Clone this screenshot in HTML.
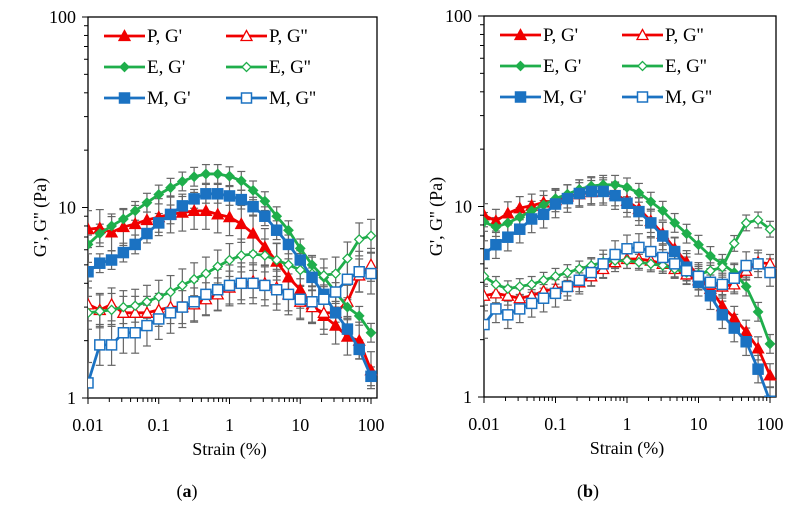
<!DOCTYPE html>
<html><head><meta charset="utf-8"><style>
html,body{margin:0;padding:0;background:#fff;}
svg{display:block;font-family:"Liberation Serif",serif;}
</style></head><body>
<svg id="chart" width="794" height="508" viewBox="0 0 794 508" xmlns="http://www.w3.org/2000/svg"></svg>
<script>
const strainTicks = [0.01, 0.1, 1, 10, 100];
const strainTickLabels = ["0.01", "0.1", "1", "10", "100"];
const modTicks = [1, 10, 100];
const modTickLabels = ["1", "10", "100"];
const strainPoints = Array.from({length:25},(_,i)=>+(0.01*Math.pow(10,i/6)).toPrecision(4));

const aPGp = [7.7,7.8,7.4,7.9,8.2,8.6,8.9,9.2,9.4,9.6,9.6,9.2,8.9,8.2,7.3,6.2,5.2,4.3,3.7,3.1,2.7,2.4,2.1,2.0,1.4];
const aPGpp = [3.1,2.9,3.1,2.8,2.8,2.8,2.9,3.0,3.0,3.1,3.3,3.5,3.8,4.0,4.1,4.0,3.8,3.5,3.2,3.0,2.8,2.8,3.2,4.4,5.0];
const aEGp = [6.4,7.3,8.0,8.7,9.6,10.6,11.7,12.7,13.7,14.5,15,15,14.6,13.8,12.3,10.8,9.0,7.6,6.1,5.0,4.3,3.6,3.0,2.7,2.2];
const aEGpp = [2.8,2.85,2.9,3.0,3.05,3.2,3.4,3.6,3.9,4.2,4.5,4.9,5.3,5.6,5.7,5.6,5.3,5.0,4.7,4.5,4.4,4.5,5.4,6.8,7.1];
const aMGp = [4.6,5.1,5.3,5.8,6.4,7.3,8.3,9.2,10.2,11.1,11.8,11.8,11.5,11.0,10.1,9.0,7.6,6.4,5.3,4.3,3.5,2.8,2.3,1.8,1.3];
const aMGpp = [1.2,1.9,1.9,2.2,2.2,2.4,2.6,2.8,3.0,3.2,3.5,3.7,3.9,4.0,4.0,3.9,3.7,3.5,3.3,3.2,3.3,3.6,4.2,4.6,4.5];

const bPGp = [9.0,8.4,9.2,9.8,10.1,10.5,10.8,11.3,11.6,11.9,12.0,11.6,10.7,9.7,8.4,7.2,6.0,5.1,4.3,3.7,3.0,2.6,2.2,1.8,1.3];
const bPGpp = [3.4,3.5,3.4,3.3,3.4,3.6,3.7,3.8,4.0,4.3,4.7,5.1,5.3,5.3,5.2,5.0,4.7,4.4,4.1,3.9,3.8,3.9,4.6,5.1,5.0];
const bEGp = [8.3,7.8,8.2,8.8,9.5,10.2,11.0,11.6,12.3,12.8,13.0,13.0,12.6,11.8,10.6,9.5,8.2,7.2,6.3,5.5,5.0,4.5,3.8,2.8,1.9];
const bEGpp = [4.3,3.9,3.7,3.8,3.9,4.1,4.3,4.5,4.7,4.9,5.1,5.2,5.2,5.1,5.0,4.9,4.7,4.5,4.4,4.6,4.8,6.4,8.2,8.5,7.6];
const bMGp = [5.6,6.3,6.9,7.6,8.6,9.1,10.3,11.0,11.7,12.0,12.0,11.4,10.4,9.4,8.2,7.0,5.8,4.8,4.0,3.4,2.7,2.3,1.95,1.4,0.95];
const bMGpp = [2.4,2.9,2.7,2.9,3.1,3.3,3.5,3.8,4.1,4.5,5.0,5.6,6.0,6.1,5.8,5.4,5.0,4.6,4.3,4.0,3.9,4.2,4.9,5.0,4.5];

const errA = [0.25,0.22,0.12,0.22,0.12,0.28];
const errB = [0.15,0.12,0.12,0.10,0.18,0.18];

const NS="http://www.w3.org/2000/svg";
const svg=document.getElementById('chart');
function mk(tag,attrs,parent){const e=document.createElementNS(NS,tag);for(const k in attrs)e.setAttribute(k,attrs[k]);(parent||svg).appendChild(e);return e;}

const RED="#f00000", GREEN="#1fae4b", BLUE="#1b72c2";
const seriesDefs=[
 {key:"P",name:"P, G'",color:RED,shape:"tri",fill:true},
 {key:"P",name:"P, G''",color:RED,shape:"tri",fill:false},
 {key:"E",name:"E, G'",color:GREEN,shape:"dia",fill:true},
 {key:"E",name:"E, G''",color:GREEN,shape:"dia",fill:false},
 {key:"M",name:"M, G'",color:BLUE,shape:"sq",fill:true},
 {key:"M",name:"M, G''",color:BLUE,shape:"sq",fill:false}];

function marker(g,shape,x,y,color,fill){
  const f=fill?color:"#fff";
  if(shape==="tri") return mk('polygon',{points:`${x},${y-5.5} ${x-5.5},${y+4.5} ${x+5.5},${y+4.5}`,fill:f,stroke:color,'stroke-width':1.3},g);
  if(shape==="dia") return mk('polygon',{points:`${x},${y-4.5} ${x-4.5},${y} ${x},${y+4.5} ${x+4.5},${y}`,fill:f,stroke:color,'stroke-width':1.3},g);
  return mk('rect',{x:x-5,y:y-5,width:10,height:10,fill:f,stroke:color,'stroke-width':1.5},g);
}

function panel(id,x0,x1,y0,y1,data,errs,label,labelX){
  const g=mk('g',{});
  
  
  const xs=v=>x0+(Math.log10(v)+2)/4*(x1-x0);
  const ys=v=>y1-Math.log10(v)/2*(y1-y0);
  const clipId=id+'-clip';
  const cp=mk('clipPath',{id:clipId},g);mk('rect',{x:x0,y:y0,width:x1-x0+8,height:y1-y0},cp);
  const fr=mk('rect',{x:x0,y:y0,width:x1-x0+6,height:y1-y0,fill:'none',stroke:'#000','stroke-width':1.3},g);
  
  for(let d=-2;d<2;d++)for(let m=1;m<10;m++){const v=Math.pow(10,d)*m;const X=xs(v);mk('line',{x1:X,y1:y1,x2:X,y2:y1+(m===1?6:4),stroke:'#000','stroke-width':1},g);}
  mk('line',{x1:xs(100),y1:y1,x2:xs(100),y2:y1+6,stroke:'#000','stroke-width':1},g);
  strainTicks.forEach((v,i)=>{const t=mk('text',{x:xs(v),y:y1+33,'text-anchor':'middle','font-size':18},g);t.textContent=strainTickLabels[i];
    });
  for(let d=0;d<2;d++)for(let m=1;m<10;m++){const Y=ys(Math.pow(10,d)*m);mk('line',{x1:x0-(m===1?6:4),y1:Y,x2:x0,y2:Y,stroke:'#000','stroke-width':1},g);}
  mk('line',{x1:x0-6,y1:ys(100),x2:x0,y2:ys(100),stroke:'#000','stroke-width':1},g);
  modTicks.forEach((v,i)=>{const t=mk('text',{x:x0-12,y:ys(v)+6,'text-anchor':'end','font-size':18},g);t.textContent=modTickLabels[i];
    });
  const xt=mk('text',{x:(x0+x1)/2,y:y1+57,'text-anchor':'middle','font-size':18},g);xt.textContent="Strain (%)";
  
  const yt=mk('text',{x:0,y:0,'text-anchor':'middle','font-size':18,transform:`translate(${x0-42},${(y0+y1)/2+10}) rotate(-90)`},g);yt.textContent="G', G'' (Pa)";
  
  const pl=mk('text',{x:labelX,y:497,'text-anchor':'middle','font-size':18},g);
  pl.innerHTML='(<tspan font-weight="bold">'+label+'</tspan>)';
  
  const plotG=mk('g',{'clip-path':`url(#${clipId})`},g);
  data.forEach((vals,si)=>{
    const eg=mk('g',{},plotG);
    
    vals.forEach((v,i)=>{const X=xs(strainPoints[i]);const yl=ys(v*(1+errs[si])),yh=ys(v/(1+errs[si]));
      mk('line',{x1:X,y1:yl,x2:X,y2:yh,stroke:'#666','stroke-width':1.2},eg);
      mk('line',{x1:X-4,y1:yl,x2:X+4,y2:yl,stroke:'#666','stroke-width':1.2},eg);
      mk('line',{x1:X-4,y1:yh,x2:X+4,y2:yh,stroke:'#666','stroke-width':1.2},eg);});
  });
  data.forEach((vals,si)=>{
    const d=seriesDefs[si];
    const sg=mk('g',{},plotG);
    
    
    mk('polyline',{points:vals.map((v,i)=>xs(strainPoints[i])+','+ys(v)).join(' '),fill:'none',stroke:d.color,'stroke-width':2.8,'stroke-linejoin':'round'},sg);
    vals.forEach((v,i)=>{const m=marker(sg,d.shape,xs(strainPoints[i]),ys(v),d.color,d.fill);
      });
  });
  const lg=mk('g',{},g);
  
  seriesDefs.forEach((d,si)=>{
    const col=si%2,row=Math.floor(si/2);
    const lx=x0+16+col*122, ly=y0+19+row*31;
    const eg=mk('g',{},lg);
    
    mk('line',{x1:lx,y1:ly,x2:lx+41,y2:ly,stroke:d.color,'stroke-width':2.8},eg);
    marker(eg,d.shape,lx+20.5,ly,d.color,d.fill);
    const t=mk('text',{x:lx+43,y:ly+6,'font-size':19},eg);t.textContent=d.name;
  });
}
panel('panel-a',88,371,17,398,[aPGp,aPGpp,aEGp,aEGpp,aMGp,aMGpp],errA,'a',187);
panel('panel-b',484,770,16,397,[bPGp,bPGpp,bEGp,bEGpp,bMGp,bMGpp],errB,'b',588);
</script>
</body></html>
